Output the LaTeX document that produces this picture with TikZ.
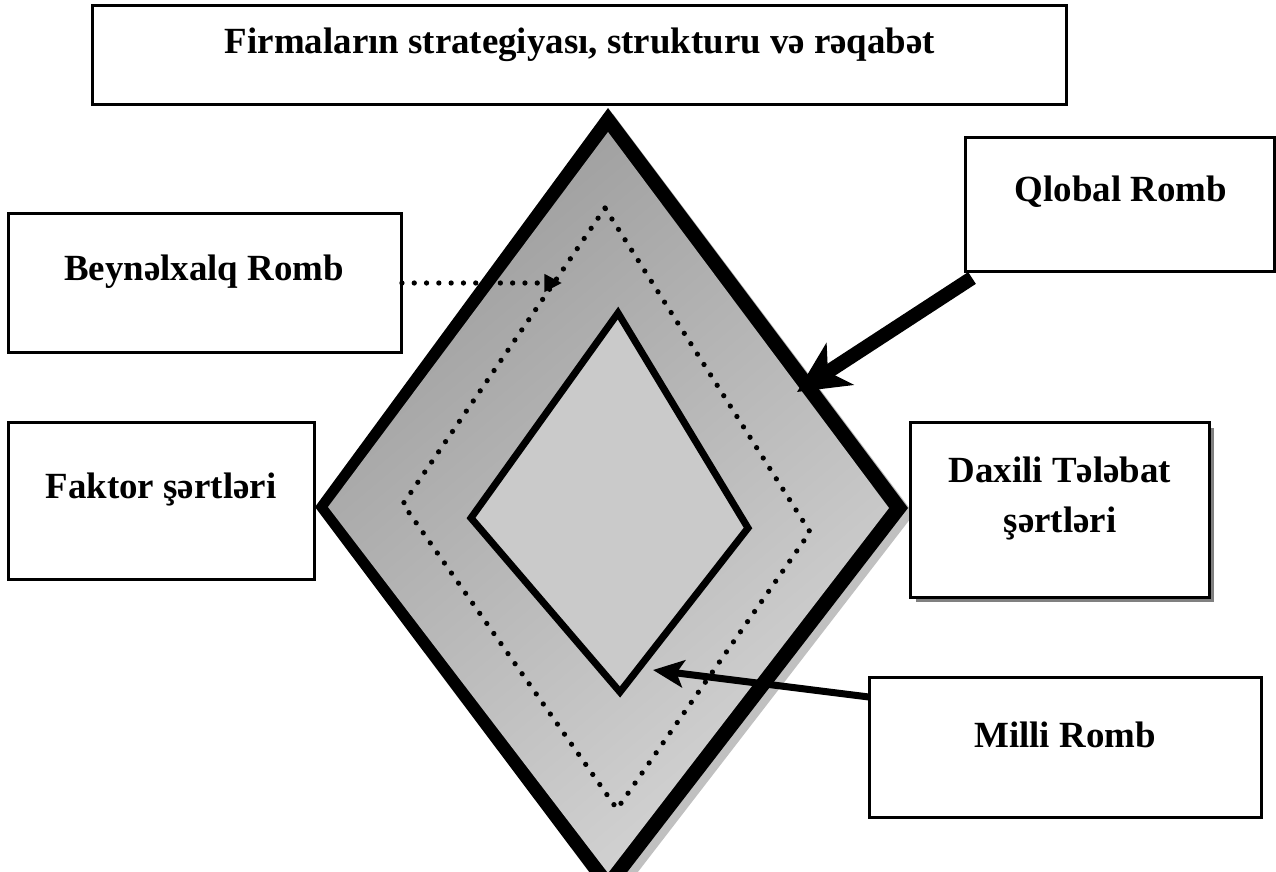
\documentclass[tikz,border=0pt]{standalone}
\usepackage{fontspec}
\setmainfont{Liberation Serif}
\usetikzlibrary{arrows.meta,calc}
\definecolor{dk}{RGB}{158,158,158}
\definecolor{lt}{RGB}{212,212,212}
\definecolor{mid}{RGB}{202,202,202}
\definecolor{shad}{RGB}{192,192,192}
\begin{document}
\begin{tikzpicture}[x=0.02cm,y=-0.02cm,
  box/.style={draw=black, line width=1.7pt, fill=white, inner sep=0pt, outer sep=0pt},
  lbl/.style={font=\fontsize{21}{28.4}\selectfont\bfseries, inner sep=0pt, anchor=base},
  dots/.style={line width=3pt, line cap=round, dash pattern=on 0pt off 7pt},
]
\useasboundingbox (0,0) rectangle (1276,872);
\clip (0,0) rectangle (1276,872);

% diamond
\fill[shad] (613,114) -- (321,513) -- (614,903) -- (914,514) -- cycle;
\fill[black] (608,108) -- (315,507) -- (608,897) -- (908,508) -- cycle;
\shade[top color=dk, bottom color=lt, shading angle=40]
  (608,132) -- (328,507) -- (608,873) -- (889,508) -- cycle;
\draw[dots] (605,208) -- (403,504) -- (617,809) -- (810,532) -- cycle;
\draw[line width=4pt, line join=miter, fill=mid]
  (618,313) -- (471,518) -- (620,692) -- (748,528) -- cycle;

% boxes
\node[box, minimum width=19.5cm, minimum height=2cm] (topbox) at (579.5,55) {};
\node[box, minimum width=7.88cm, minimum height=2.8cm] (beyn) at (205,283) {};
\node[box, minimum width=6.14cm, minimum height=3.16cm] (faktor) at (161.5,501) {};
\node[box, minimum width=6.2cm, minimum height=2.7cm] (qlobal) at (1120,204.5) {};
\fill[gray] (916,428) rectangle (1214,602);
\node[box, minimum width=6cm, minimum height=3.52cm] (daxili) at (1060,510) {};
\node[box, minimum width=7.86cm, minimum height=2.82cm] (milli) at (1065.5,747.5) {};

% texts
\node[lbl] (toptxt) at (580,53) {Firmaların strategiyası, strukturu və rəqabət};
\node[lbl] (beyntxt) at (204,280) {Beynəlxalq Romb};
\node[lbl] (faktortxt) at (161,498) {Faktor şərtləri};
\node[lbl] (qlobaltxt) at (1121,201) {Qlobal Romb};
\node[lbl] (daxilitxta) at (1060,482) {Daxili Tələbat};
\node[lbl] (daxilitxtb) at (1060,532) {şərtləri};
\node[lbl] (millitxt) at (1065,747) {Milli Romb};

% arrows
\coordinate (btip) at (562,283);
\coordinate (qtip) at (797,392);
\coordinate (mtip) at (653,670);
\draw[dots, -{Triangle[length=10pt,width=9.6pt]}] (beyn.east) -- (btip);
\draw[line width=8pt, -{Stealth[length=29pt,width=28pt,inset=8pt]}]
  ($(qlobal.south west)+(7,6)$) -- (qtip);
\draw[line width=4pt, -{Stealth[length=17.5pt,width=15.5pt,inset=4pt]}]
  ($(milli.north west)+(0,20)$) -- (mtip);
\end{tikzpicture}
\end{document}
